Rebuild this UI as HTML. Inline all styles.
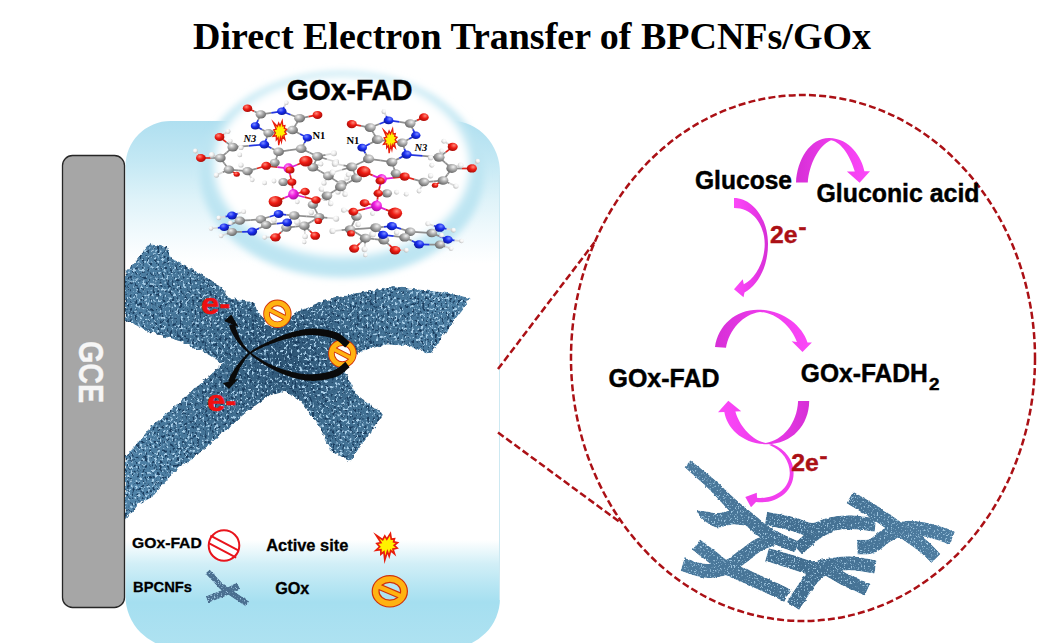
<!DOCTYPE html>
<html lang="en">
<head>
<meta charset="utf-8">
<title>Direct Electron Transfer of BPCNFs/GOx</title>
<style>
html,body{margin:0;padding:0;background:#fff;}
body{width:1040px;height:643px;overflow:hidden;}
svg{display:block;}
</style>
</head>
<body>
<svg width="1040" height="643" viewBox="0 0 1040 643">
<defs>

<linearGradient id="panelG" x1="0" y1="0" x2="0" y2="1">
  <stop offset="0" stop-color="#afdff0"/>
  <stop offset="0.074" stop-color="#c3e8f4"/>
  <stop offset="0.15" stop-color="#dff3f9"/>
  <stop offset="0.216" stop-color="#f2fafd"/>
  <stop offset="0.27" stop-color="#ffffff"/>
  <stop offset="0.795" stop-color="#ffffff"/>
  <stop offset="0.84" stop-color="#d2eff7"/>
  <stop offset="0.88" stop-color="#b8e6f3"/>
  <stop offset="0.913" stop-color="#a5dff0"/>
  <stop offset="1" stop-color="#afe2f1"/>
</linearGradient>
<linearGradient id="edgeR" x1="0" y1="0" x2="1" y2="0">
  <stop offset="0" stop-color="#bfe6f2" stop-opacity="0"/>
  <stop offset="1" stop-color="#bfe6f2" stop-opacity="0.9"/>
</linearGradient>
<radialGradient id="halo" cx="0.5" cy="0.5" r="0.5">
  <stop offset="0" stop-color="#ffffff"/>
  <stop offset="0.80" stop-color="#ffffff"/>
  <stop offset="0.86" stop-color="#d9f0f7" stop-opacity="0.95"/>
  <stop offset="0.90" stop-color="#c3e7f3" stop-opacity="0.8"/>
  <stop offset="1" stop-color="#c3e7f3" stop-opacity="0"/>
</radialGradient>
<filter id="blurB" x="-10%" y="-10%" width="120%" height="120%"><feGaussianBlur stdDeviation="3.5"/></filter>
<filter id="blurW" x="-10%" y="-10%" width="120%" height="120%"><feGaussianBlur stdDeviation="4"/></filter>
<linearGradient id="mag" x1="0" y1="0" x2="1" y2="0">
  <stop offset="0" stop-color="#d62fd6"/>
  <stop offset="0.5" stop-color="#ee3bec"/>
  <stop offset="1" stop-color="#fb48f8"/>
</linearGradient>
<linearGradient id="magR" x1="1" y1="0" x2="0" y2="0">
  <stop offset="0" stop-color="#d62fd6"/>
  <stop offset="0.5" stop-color="#ee3bec"/>
  <stop offset="1" stop-color="#fb48f8"/>
</linearGradient>

<radialGradient id="aC" cx="0.38" cy="0.32" r="0.75"><stop offset="0" stop-color="#f2f2f2"/><stop offset="0.45" stop-color="#a9a9a9"/><stop offset="1" stop-color="#5e5e5e"/></radialGradient>
<radialGradient id="aH" cx="0.38" cy="0.32" r="0.75"><stop offset="0" stop-color="#ffffff"/><stop offset="0.45" stop-color="#f1f1f1"/><stop offset="1" stop-color="#b5b5b5"/></radialGradient>
<radialGradient id="aO" cx="0.38" cy="0.32" r="0.75"><stop offset="0" stop-color="#ff8a7a"/><stop offset="0.45" stop-color="#ee1c14"/><stop offset="1" stop-color="#9c0a06"/></radialGradient>
<radialGradient id="aN" cx="0.38" cy="0.32" r="0.75"><stop offset="0" stop-color="#7a8cff"/><stop offset="0.45" stop-color="#1a2ef0"/><stop offset="1" stop-color="#0a148c"/></radialGradient>
<radialGradient id="aP" cx="0.38" cy="0.32" r="0.75"><stop offset="0" stop-color="#ff9cf5"/><stop offset="0.45" stop-color="#f01ee0"/><stop offset="1" stop-color="#a0109a"/></radialGradient>

<filter id="fib" x="-5%" y="-5%" width="110%" height="110%" color-interpolation-filters="sRGB">
  <feTurbulence type="fractalNoise" baseFrequency="0.22" numOctaves="2" seed="7" result="edgeN"/>
  <feDisplacementMap in="SourceGraphic" in2="edgeN" scale="5" xChannelSelector="R" yChannelSelector="G" result="shape"/>
  <feTurbulence type="fractalNoise" baseFrequency="0.42 0.36" numOctaves="2" seed="11" result="tn"/>
  <feColorMatrix in="tn" type="matrix" values="
     0 0 0 0 0
     0 0 0 0 0
     0 0 0 0 0
     1 1 0 0 -1.09" result="specA"/>
  <feComponentTransfer in="specA" result="specB">
    <feFuncA type="linear" slope="5" intercept="0"/>
  </feComponentTransfer>
  <feFlood flood-color="#a9cfe9" result="light"/>
  <feComposite in="light" in2="specB" operator="in" result="lightSpecs"/>
  <feTurbulence type="fractalNoise" baseFrequency="0.40 0.34" numOctaves="2" seed="23" result="tn2"/>
  <feColorMatrix in="tn2" type="matrix" values="
     0 0 0 0 0
     0 0 0 0 0
     0 0 0 0 0
     1 1 0 0 -1.06" result="dkA"/>
  <feComponentTransfer in="dkA" result="dkB">
    <feFuncA type="linear" slope="5" intercept="0"/>
  </feComponentTransfer>
  <feFlood flood-color="#1c3f61" result="dark"/>
  <feComposite in="dark" in2="dkB" operator="in" result="darkSpecs"/>
  <feMerge result="tex">
    <feMergeNode in="shape"/>
    <feMergeNode in="darkSpecs"/>
    <feMergeNode in="lightSpecs"/>
  </feMerge>
  <feComposite in="tex" in2="shape" operator="in"/>
</filter>
<filter id="fibS" x="-10%" y="-10%" width="120%" height="120%" color-interpolation-filters="sRGB">
  <feTurbulence type="fractalNoise" baseFrequency="0.25" numOctaves="2" seed="5" result="edgeN"/>
  <feDisplacementMap in="SourceGraphic" in2="edgeN" scale="2.5" xChannelSelector="R" yChannelSelector="G" result="shape"/>
  <feTurbulence type="fractalNoise" baseFrequency="0.7 0.6" numOctaves="2" seed="31" result="tn"/>
  <feColorMatrix in="tn" type="matrix" values="
     0 0 0 0 0
     0 0 0 0 0
     0 0 0 0 0
     1 1 0 0 -1.1" result="specA"/>
  <feComponentTransfer in="specA" result="specB">
    <feFuncA type="linear" slope="5" intercept="0"/>
  </feComponentTransfer>
  <feFlood flood-color="#9cc3dd" result="light"/>
  <feComposite in="light" in2="specB" operator="in" result="lightSpecs"/>
  <feMerge result="tex">
    <feMergeNode in="shape"/>
    <feMergeNode in="lightSpecs"/>
  </feMerge>
  <feComposite in="tex" in2="shape" operator="in"/>
</filter>
<linearGradient id="meshG" gradientUnits="userSpaceOnUse" x1="680" y1="0" x2="955" y2="0">
  <stop offset="0" stop-color="#4d7b9e"/>
  <stop offset="0.45" stop-color="#426e90"/>
  <stop offset="1" stop-color="#4e7da1"/>
</linearGradient>
<radialGradient id="fibG" gradientUnits="userSpaceOnUse" cx="285" cy="355" r="200">
  <stop offset="0" stop-color="#2c5373"/>
  <stop offset="0.35" stop-color="#3e6c8e"/>
  <stop offset="1" stop-color="#5083a8"/>
</radialGradient>

</defs>
<rect x="0" y="0" width="1040" height="643" fill="#ffffff"/>
<path id="panel" d="M125.5,166 A45,45 0 0 1 170.5,121 L452,121 A48,52 0 0 1 500,173 L500,598 A50,50 0 0 1 450,648 L177,648 A52,52 0 0 1 125.5,596 Z" fill="url(#panelG)"/>
<clipPath id="panelClip"><path d="M125.5,166 A45,45 0 0 1 170.5,121 L452,121 A48,52 0 0 1 500,173 L500,598 A50,50 0 0 1 450,648 L177,648 A52,52 0 0 1 125.5,596 Z"/></clipPath>
<path d="M499.5,175 L499.5,600" stroke="#cde9f2" stroke-width="1" fill="none"/>
<ellipse cx="342" cy="174.5" rx="142" ry="103" fill="#bde5f2" filter="url(#blurB)"/>
<ellipse cx="342" cy="166" rx="128" ry="91" fill="#ffffff" filter="url(#blurW)"/>
<rect x="62.5" y="155.5" width="62" height="452" rx="10" ry="10" fill="#a6a6a6" stroke="#262626" stroke-width="1.3"/>
<text transform="translate(78.8,341) rotate(90)" font-family="'Liberation Sans', sans-serif" font-weight="bold" font-size="35" fill="#f6f6f6" stroke="#f6f6f6" stroke-width="0.4" textLength="62" lengthAdjust="spacingAndGlyphs">GCE</text>
<text x="193" y="49.3" font-family="'Liberation Serif', serif" font-weight="bold" font-size="38" fill="#000" textLength="678" lengthAdjust="spacingAndGlyphs">Direct Electron Transfer of BPCNFs/GOx</text>
<text x="286.7" y="99.9" font-family="'Liberation Sans', sans-serif" font-weight="bold" stroke="#000" stroke-width="0.5" font-size="29.6" fill="#000" textLength="125.8" lengthAdjust="spacingAndGlyphs">GOx-FAD</text>
<g clip-path="url(#xclip)"><polygon points="149.5,244 166.7,247 171,258 197.8,272 222.6,287.5 227,297 255,303 260,314 269,326 285,318 300,310.4 321.8,301 356,293.3 393.3,287 424.4,290 449.3,293.3 470.4,298 430.6,354 408.9,346 387,344.6 362,351 351.3,357 345,372 356,394 384,414.6 349.8,461.3 331,450.4 318.7,425.5 300,400.6 285,392 269.3,395.5 244.4,414 219.5,436 197.8,454.6 176,470 154.2,495 138.7,504.4 124.7,520 124.7,457.8 151,426.7 176,405 197.8,386 222.6,363.7 207,354 182,342 151,332.6 124.7,320 124.7,273.5" fill="url(#fibG)" filter="url(#fib)"/></g>
<clipPath id="xclip"><rect x="125" y="200" width="400" height="360"/></clipPath>
<g id="molL">
<line x1="247.5" y1="108.2" x2="254.2" y2="111.3" stroke="#e0261c" stroke-width="1.7"/>
<line x1="254.2" y1="111.3" x2="260.8" y2="114.4" stroke="#8f8f8f" stroke-width="1.7"/>
<line x1="260.8" y1="114.4" x2="271.3" y2="112.8" stroke="#8f8f8f" stroke-width="1.7"/>
<line x1="271.3" y1="112.8" x2="281.8" y2="111.3" stroke="#2436e0" stroke-width="1.7"/>
<line x1="281.8" y1="111.3" x2="284.1" y2="107.0" stroke="#2436e0" stroke-width="1.7"/>
<line x1="284.1" y1="107.0" x2="286.4" y2="102.8" stroke="#d9d9d9" stroke-width="1.7"/>
<line x1="281.8" y1="111.3" x2="290.7" y2="114.8" stroke="#2436e0" stroke-width="1.7"/>
<line x1="290.7" y1="114.8" x2="299.6" y2="118.3" stroke="#8f8f8f" stroke-width="1.7"/>
<line x1="299.6" y1="118.3" x2="308.6" y2="116.6" stroke="#8f8f8f" stroke-width="1.7"/>
<line x1="308.6" y1="116.6" x2="317.5" y2="114.9" stroke="#e0261c" stroke-width="1.7"/>
<line x1="260.8" y1="114.4" x2="258.1" y2="120.1" stroke="#8f8f8f" stroke-width="1.7"/>
<line x1="258.1" y1="120.1" x2="255.3" y2="125.8" stroke="#2436e0" stroke-width="1.7"/>
<line x1="255.3" y1="125.8" x2="261.9" y2="129.4" stroke="#2436e0" stroke-width="1.7"/>
<line x1="261.9" y1="129.4" x2="268.5" y2="133.1" stroke="#8f8f8f" stroke-width="1.7"/>
<line x1="268.5" y1="133.1" x2="280.6" y2="131.6" stroke="#8f8f8f" stroke-width="1.7"/>
<line x1="280.6" y1="131.6" x2="292.6" y2="130" stroke="#8f8f8f" stroke-width="1.7"/>
<line x1="299.6" y1="118.3" x2="296.1" y2="124.2" stroke="#8f8f8f" stroke-width="1.7"/>
<line x1="296.1" y1="124.2" x2="292.6" y2="130" stroke="#8f8f8f" stroke-width="1.7"/>
<line x1="292.6" y1="130" x2="300.0" y2="133.9" stroke="#8f8f8f" stroke-width="1.7"/>
<line x1="300.0" y1="133.9" x2="307.4" y2="137.8" stroke="#2436e0" stroke-width="1.7"/>
<line x1="307.4" y1="137.8" x2="304.3" y2="143.2" stroke="#2436e0" stroke-width="1.7"/>
<line x1="304.3" y1="143.2" x2="301.2" y2="148.7" stroke="#8f8f8f" stroke-width="1.7"/>
<line x1="268.5" y1="133.1" x2="266.4" y2="138.8" stroke="#8f8f8f" stroke-width="1.7"/>
<line x1="266.4" y1="138.8" x2="264.3" y2="144.5" stroke="#2436e0" stroke-width="1.7"/>
<line x1="264.3" y1="144.5" x2="271.5" y2="148.2" stroke="#2436e0" stroke-width="1.7"/>
<line x1="271.5" y1="148.2" x2="278.6" y2="151.8" stroke="#8f8f8f" stroke-width="1.7"/>
<line x1="278.6" y1="151.8" x2="289.9" y2="150.2" stroke="#8f8f8f" stroke-width="1.7"/>
<line x1="289.9" y1="150.2" x2="301.2" y2="148.7" stroke="#8f8f8f" stroke-width="1.7"/>
<line x1="301.2" y1="148.7" x2="309.4" y2="152.6" stroke="#8f8f8f" stroke-width="1.7"/>
<line x1="309.4" y1="152.6" x2="317.5" y2="156.4" stroke="#8f8f8f" stroke-width="1.7"/>
<line x1="317.5" y1="156.4" x2="325.7" y2="154.9" stroke="#8f8f8f" stroke-width="1.7"/>
<line x1="325.7" y1="154.9" x2="333.9" y2="153.3" stroke="#d9d9d9" stroke-width="1.7"/>
<line x1="317.5" y1="156.4" x2="315.2" y2="161.9" stroke="#8f8f8f" stroke-width="1.7"/>
<line x1="315.2" y1="161.9" x2="312.9" y2="167.3" stroke="#8f8f8f" stroke-width="1.7"/>
<line x1="312.9" y1="167.3" x2="320.6" y2="171.6" stroke="#8f8f8f" stroke-width="1.7"/>
<line x1="320.6" y1="171.6" x2="328.4" y2="175.9" stroke="#8f8f8f" stroke-width="1.7"/>
<line x1="328.4" y1="175.9" x2="335.0" y2="180.2" stroke="#8f8f8f" stroke-width="1.7"/>
<line x1="335.0" y1="180.2" x2="341.6" y2="184.4" stroke="#8f8f8f" stroke-width="1.7"/>
<line x1="328.4" y1="175.9" x2="326.2" y2="179.4" stroke="#8f8f8f" stroke-width="1.7"/>
<line x1="326.2" y1="179.4" x2="324" y2="183" stroke="#d9d9d9" stroke-width="1.7"/>
<line x1="341.6" y1="184.4" x2="339.8" y2="188.2" stroke="#8f8f8f" stroke-width="1.7"/>
<line x1="339.8" y1="188.2" x2="338" y2="192" stroke="#d9d9d9" stroke-width="1.7"/>
<line x1="341.6" y1="184.4" x2="344.3" y2="181.2" stroke="#8f8f8f" stroke-width="1.7"/>
<line x1="344.3" y1="181.2" x2="347" y2="178" stroke="#d9d9d9" stroke-width="1.7"/>
<line x1="312.9" y1="167.3" x2="316.9" y2="165.7" stroke="#8f8f8f" stroke-width="1.7"/>
<line x1="316.9" y1="165.7" x2="321" y2="164" stroke="#d9d9d9" stroke-width="1.7"/>
<line x1="317.5" y1="156.4" x2="326.9" y2="159.2" stroke="#8f8f8f" stroke-width="1.7"/>
<line x1="326.9" y1="159.2" x2="336.2" y2="161.9" stroke="#d9d9d9" stroke-width="1.7"/>
<line x1="264.3" y1="144.5" x2="248.6" y2="145.8" stroke="#2436e0" stroke-width="1.7"/>
<line x1="248.6" y1="145.8" x2="232.8" y2="147.1" stroke="#8f8f8f" stroke-width="1.7"/>
<line x1="232.8" y1="147.1" x2="226.2" y2="142.1" stroke="#8f8f8f" stroke-width="1.7"/>
<line x1="226.2" y1="142.1" x2="219.5" y2="137" stroke="#e0261c" stroke-width="1.7"/>
<line x1="219.5" y1="137" x2="223.8" y2="134.2" stroke="#e0261c" stroke-width="1.7"/>
<line x1="223.8" y1="134.2" x2="228.1" y2="131.5" stroke="#d9d9d9" stroke-width="1.7"/>
<line x1="232.8" y1="147.1" x2="226.6" y2="152.6" stroke="#8f8f8f" stroke-width="1.7"/>
<line x1="226.6" y1="152.6" x2="220.3" y2="158" stroke="#8f8f8f" stroke-width="1.7"/>
<line x1="220.3" y1="158" x2="210.6" y2="158.0" stroke="#8f8f8f" stroke-width="1.7"/>
<line x1="210.6" y1="158.0" x2="200.9" y2="158" stroke="#e0261c" stroke-width="1.7"/>
<line x1="200.9" y1="158" x2="198.2" y2="154.5" stroke="#e0261c" stroke-width="1.7"/>
<line x1="198.2" y1="154.5" x2="195.4" y2="151" stroke="#d9d9d9" stroke-width="1.7"/>
<line x1="220.3" y1="158" x2="224.6" y2="163.8" stroke="#8f8f8f" stroke-width="1.7"/>
<line x1="224.6" y1="163.8" x2="228.9" y2="169.6" stroke="#8f8f8f" stroke-width="1.7"/>
<line x1="228.9" y1="169.6" x2="238.2" y2="170.4" stroke="#8f8f8f" stroke-width="1.7"/>
<line x1="238.2" y1="170.4" x2="247.5" y2="171.2" stroke="#8f8f8f" stroke-width="1.7"/>
<line x1="247.5" y1="171.2" x2="256.9" y2="168.5" stroke="#8f8f8f" stroke-width="1.7"/>
<line x1="256.9" y1="168.5" x2="266.2" y2="165.8" stroke="#e0261c" stroke-width="1.7"/>
<line x1="266.2" y1="165.8" x2="277.4" y2="167.1" stroke="#e0261c" stroke-width="1.7"/>
<line x1="277.4" y1="167.1" x2="288.5" y2="168.3" stroke="#e020d0" stroke-width="1.7"/>
<line x1="278.6" y1="151.8" x2="276.7" y2="157.2" stroke="#8f8f8f" stroke-width="1.7"/>
<line x1="276.7" y1="157.2" x2="274.8" y2="162.7" stroke="#8f8f8f" stroke-width="1.7"/>
<line x1="274.8" y1="162.7" x2="270.5" y2="164.2" stroke="#8f8f8f" stroke-width="1.7"/>
<line x1="270.5" y1="164.2" x2="266.2" y2="165.8" stroke="#e0261c" stroke-width="1.7"/>
<line x1="288.5" y1="168.3" x2="297.2" y2="164.7" stroke="#e020d0" stroke-width="1.7"/>
<line x1="297.2" y1="164.7" x2="305.9" y2="161.1" stroke="#e0261c" stroke-width="1.7"/>
<line x1="288.5" y1="168.3" x2="290.2" y2="175.2" stroke="#e020d0" stroke-width="1.7"/>
<line x1="290.2" y1="175.2" x2="291.9" y2="182.1" stroke="#e0261c" stroke-width="1.7"/>
<line x1="291.9" y1="182.1" x2="292.6" y2="188.2" stroke="#e0261c" stroke-width="1.7"/>
<line x1="292.6" y1="188.2" x2="293.4" y2="194.3" stroke="#e020d0" stroke-width="1.7"/>
<line x1="291.9" y1="182.1" x2="287.6" y2="182.1" stroke="#e0261c" stroke-width="1.7"/>
<line x1="287.6" y1="182.1" x2="283.3" y2="182.1" stroke="#8f8f8f" stroke-width="1.7"/>
<line x1="293.4" y1="194.3" x2="299.2" y2="192.9" stroke="#e020d0" stroke-width="1.7"/>
<line x1="299.2" y1="192.9" x2="305.1" y2="191.6" stroke="#e0261c" stroke-width="1.7"/>
<line x1="293.4" y1="194.3" x2="284.4" y2="197.9" stroke="#e020d0" stroke-width="1.7"/>
<line x1="284.4" y1="197.9" x2="275.5" y2="201.5" stroke="#e0261c" stroke-width="1.7"/>
<line x1="293.4" y1="194.3" x2="304.7" y2="197.2" stroke="#e020d0" stroke-width="1.7"/>
<line x1="304.7" y1="197.2" x2="316" y2="200" stroke="#e0261c" stroke-width="1.7"/>
<line x1="316" y1="200" x2="320.6" y2="199.2" stroke="#e0261c" stroke-width="1.7"/>
<line x1="320.6" y1="199.2" x2="325.3" y2="198.4" stroke="#d9d9d9" stroke-width="1.7"/>
<line x1="316" y1="200" x2="314.4" y2="202.3" stroke="#e0261c" stroke-width="1.7"/>
<line x1="314.4" y1="202.3" x2="312.9" y2="204.7" stroke="#8f8f8f" stroke-width="1.7"/>
<line x1="312.9" y1="204.7" x2="316.0" y2="210.9" stroke="#8f8f8f" stroke-width="1.7"/>
<line x1="316.0" y1="210.9" x2="319.1" y2="217.1" stroke="#8f8f8f" stroke-width="1.7"/>
<line x1="319.1" y1="217.1" x2="327.6" y2="217.9" stroke="#8f8f8f" stroke-width="1.7"/>
<line x1="327.6" y1="217.9" x2="336.2" y2="218.7" stroke="#d9d9d9" stroke-width="1.7"/>
<line x1="319.1" y1="217.1" x2="311.7" y2="221.4" stroke="#8f8f8f" stroke-width="1.7"/>
<line x1="311.7" y1="221.4" x2="304.3" y2="225.7" stroke="#8f8f8f" stroke-width="1.7"/>
<line x1="304.3" y1="225.7" x2="309.8" y2="230.8" stroke="#8f8f8f" stroke-width="1.7"/>
<line x1="309.8" y1="230.8" x2="315.2" y2="235.8" stroke="#e0261c" stroke-width="1.7"/>
<line x1="304.3" y1="225.7" x2="295.4" y2="226.6" stroke="#8f8f8f" stroke-width="1.7"/>
<line x1="295.4" y1="226.6" x2="286.4" y2="227.6" stroke="#8f8f8f" stroke-width="1.7"/>
<line x1="286.4" y1="227.6" x2="280.9" y2="232.4" stroke="#8f8f8f" stroke-width="1.7"/>
<line x1="280.9" y1="232.4" x2="275.5" y2="237.3" stroke="#e0261c" stroke-width="1.7"/>
<line x1="275.5" y1="237.3" x2="270.1" y2="237.3" stroke="#e0261c" stroke-width="1.7"/>
<line x1="270.1" y1="237.3" x2="264.6" y2="237.3" stroke="#d9d9d9" stroke-width="1.7"/>
<line x1="304.3" y1="225.7" x2="304.7" y2="231.1" stroke="#8f8f8f" stroke-width="1.7"/>
<line x1="304.7" y1="231.1" x2="305.1" y2="236.5" stroke="#d9d9d9" stroke-width="1.7"/>
<line x1="278.6" y1="214" x2="286.4" y2="214.8" stroke="#2436e0" stroke-width="1.7"/>
<line x1="286.4" y1="214.8" x2="294.2" y2="215.5" stroke="#8f8f8f" stroke-width="1.7"/>
<line x1="294.2" y1="215.5" x2="290.7" y2="219.0" stroke="#8f8f8f" stroke-width="1.7"/>
<line x1="290.7" y1="219.0" x2="287.2" y2="222.5" stroke="#2436e0" stroke-width="1.7"/>
<line x1="287.2" y1="222.5" x2="276.7" y2="223.7" stroke="#2436e0" stroke-width="1.7"/>
<line x1="276.7" y1="223.7" x2="266.2" y2="224.9" stroke="#8f8f8f" stroke-width="1.7"/>
<line x1="266.2" y1="224.9" x2="263.5" y2="222.2" stroke="#8f8f8f" stroke-width="1.7"/>
<line x1="263.5" y1="222.2" x2="260.8" y2="219.4" stroke="#8f8f8f" stroke-width="1.7"/>
<line x1="260.8" y1="219.4" x2="269.7" y2="216.7" stroke="#8f8f8f" stroke-width="1.7"/>
<line x1="269.7" y1="216.7" x2="278.6" y2="214" stroke="#2436e0" stroke-width="1.7"/>
<line x1="260.8" y1="219.4" x2="250.3" y2="220.1" stroke="#8f8f8f" stroke-width="1.7"/>
<line x1="250.3" y1="220.1" x2="239.8" y2="220.7" stroke="#8f8f8f" stroke-width="1.7"/>
<line x1="239.8" y1="220.7" x2="235.9" y2="218.1" stroke="#8f8f8f" stroke-width="1.7"/>
<line x1="235.9" y1="218.1" x2="232" y2="215.5" stroke="#2436e0" stroke-width="1.7"/>
<line x1="239.8" y1="220.7" x2="232.0" y2="223.9" stroke="#8f8f8f" stroke-width="1.7"/>
<line x1="232.0" y1="223.9" x2="224.2" y2="227.2" stroke="#2436e0" stroke-width="1.7"/>
<line x1="224.2" y1="227.2" x2="228.1" y2="229.6" stroke="#2436e0" stroke-width="1.7"/>
<line x1="228.1" y1="229.6" x2="232" y2="231.9" stroke="#8f8f8f" stroke-width="1.7"/>
<line x1="232" y1="231.9" x2="242.1" y2="231.8" stroke="#8f8f8f" stroke-width="1.7"/>
<line x1="242.1" y1="231.8" x2="252.2" y2="231.6" stroke="#2436e0" stroke-width="1.7"/>
<line x1="252.2" y1="231.6" x2="259.2" y2="228.2" stroke="#2436e0" stroke-width="1.7"/>
<line x1="259.2" y1="228.2" x2="266.2" y2="224.9" stroke="#8f8f8f" stroke-width="1.7"/>
<line x1="294.2" y1="215.5" x2="306.6" y2="216.3" stroke="#8f8f8f" stroke-width="1.7"/>
<line x1="306.6" y1="216.3" x2="319.1" y2="217.1" stroke="#8f8f8f" stroke-width="1.7"/>
<line x1="287.2" y1="222.5" x2="286.8" y2="225.1" stroke="#2436e0" stroke-width="1.7"/>
<line x1="286.8" y1="225.1" x2="286.4" y2="227.6" stroke="#8f8f8f" stroke-width="1.7"/>
<line x1="232" y1="215.5" x2="237.8" y2="213.6" stroke="#2436e0" stroke-width="1.7"/>
<line x1="237.8" y1="213.6" x2="243.7" y2="211.7" stroke="#d9d9d9" stroke-width="1.7"/>
<line x1="232" y1="215.5" x2="225.4" y2="216.7" stroke="#2436e0" stroke-width="1.7"/>
<line x1="225.4" y1="216.7" x2="218.8" y2="217.9" stroke="#d9d9d9" stroke-width="1.7"/>
<line x1="224.2" y1="227.2" x2="217.6" y2="227.8" stroke="#2436e0" stroke-width="1.7"/>
<line x1="217.6" y1="227.8" x2="211" y2="228.5" stroke="#d9d9d9" stroke-width="1.7"/>
<line x1="232" y1="231.9" x2="226.6" y2="233.9" stroke="#8f8f8f" stroke-width="1.7"/>
<line x1="226.6" y1="233.9" x2="221.1" y2="235.8" stroke="#d9d9d9" stroke-width="1.7"/>
<line x1="228.9" y1="169.6" x2="222.7" y2="172.3" stroke="#8f8f8f" stroke-width="1.7"/>
<line x1="222.7" y1="172.3" x2="216.4" y2="175.1" stroke="#d9d9d9" stroke-width="1.7"/>
<line x1="247.5" y1="171.2" x2="249.8" y2="175.5" stroke="#8f8f8f" stroke-width="1.7"/>
<line x1="249.8" y1="175.5" x2="252.2" y2="179.8" stroke="#d9d9d9" stroke-width="1.7"/>
<line x1="220.3" y1="158" x2="216.1" y2="156.4" stroke="#8f8f8f" stroke-width="1.7"/>
<line x1="216.1" y1="156.4" x2="211.8" y2="154.9" stroke="#d9d9d9" stroke-width="1.7"/>
<line x1="228.9" y1="169.6" x2="232.8" y2="171.9" stroke="#8f8f8f" stroke-width="1.7"/>
<line x1="232.8" y1="171.9" x2="236.7" y2="174.3" stroke="#e0261c" stroke-width="1.7"/>
<ellipse cx="286.4" cy="102.8" rx="2.2" ry="2.2" fill="url(#aH)"/>
<ellipse cx="333.9" cy="153.3" rx="3.0" ry="3.0" fill="url(#aH)"/>
<ellipse cx="336.2" cy="161.9" rx="2.8" ry="2.8" fill="url(#aH)"/>
<ellipse cx="324" cy="183" rx="2.6" ry="2.6" fill="url(#aH)"/>
<ellipse cx="338" cy="192" rx="2.6" ry="2.6" fill="url(#aH)"/>
<ellipse cx="347" cy="178" rx="2.6" ry="2.6" fill="url(#aH)"/>
<ellipse cx="321" cy="164" rx="2.4" ry="2.4" fill="url(#aH)"/>
<ellipse cx="274" cy="181" rx="2.4" ry="2.4" fill="url(#aH)"/>
<ellipse cx="325.3" cy="198.4" rx="2.6" ry="2.6" fill="url(#aH)"/>
<ellipse cx="297.3" cy="201.8" rx="2.4" ry="2.4" fill="url(#aH)"/>
<ellipse cx="228.1" cy="131.5" rx="2.4" ry="2.4" fill="url(#aH)"/>
<ellipse cx="241" cy="147.5" rx="2.6" ry="2.6" fill="url(#aH)"/>
<ellipse cx="230.4" cy="140.9" rx="2.2" ry="2.2" fill="url(#aH)"/>
<ellipse cx="239.8" cy="154.9" rx="2.4" ry="2.4" fill="url(#aH)"/>
<ellipse cx="195.4" cy="151" rx="2.4" ry="2.4" fill="url(#aH)"/>
<ellipse cx="211.8" cy="154.9" rx="2.8" ry="2.8" fill="url(#aH)"/>
<ellipse cx="216.4" cy="175.1" rx="2.6" ry="2.6" fill="url(#aH)"/>
<ellipse cx="252.2" cy="179.8" rx="2.4" ry="2.4" fill="url(#aH)"/>
<ellipse cx="264.6" cy="182.9" rx="2.4" ry="2.4" fill="url(#aH)"/>
<ellipse cx="241" cy="165" rx="2.6" ry="2.6" fill="url(#aH)"/>
<ellipse cx="336.2" cy="218.7" rx="3.0" ry="3.0" fill="url(#aH)"/>
<ellipse cx="311.3" cy="212.4" rx="2.6" ry="2.6" fill="url(#aH)"/>
<ellipse cx="297.3" cy="221.8" rx="3.2" ry="3.2" fill="url(#aH)"/>
<ellipse cx="305.1" cy="236.5" rx="2.8" ry="2.8" fill="url(#aH)"/>
<ellipse cx="304.3" cy="242" rx="2.2" ry="2.2" fill="url(#aH)"/>
<ellipse cx="264.6" cy="237.3" rx="2.4" ry="2.4" fill="url(#aH)"/>
<ellipse cx="274" cy="220.2" rx="2.6" ry="2.6" fill="url(#aH)"/>
<ellipse cx="243.7" cy="211.7" rx="2.4" ry="2.4" fill="url(#aH)"/>
<ellipse cx="218.8" cy="217.9" rx="2.4" ry="2.4" fill="url(#aH)"/>
<ellipse cx="211" cy="228.5" rx="2.2" ry="2.2" fill="url(#aH)"/>
<ellipse cx="221.1" cy="235.8" rx="2.4" ry="2.4" fill="url(#aH)"/>
<ellipse cx="230.4" cy="222.9" rx="2.4" ry="2.4" fill="url(#aH)"/>
<ellipse cx="260.8" cy="114.4" rx="5.2" ry="4.1" fill="url(#aC)"/>
<ellipse cx="299.6" cy="118.3" rx="5.4" ry="4.3" fill="url(#aC)"/>
<ellipse cx="268.5" cy="133.1" rx="5.2" ry="4.1" fill="url(#aC)"/>
<ellipse cx="292.6" cy="130" rx="5.4" ry="4.3" fill="url(#aC)"/>
<ellipse cx="278.6" cy="151.8" rx="5.4" ry="4.3" fill="url(#aC)"/>
<ellipse cx="301.2" cy="148.7" rx="5.4" ry="4.3" fill="url(#aC)"/>
<ellipse cx="317.5" cy="156.4" rx="5.4" ry="4.3" fill="url(#aC)"/>
<ellipse cx="312.9" cy="167.3" rx="5.4" ry="4.3" fill="url(#aC)"/>
<ellipse cx="328.4" cy="175.9" rx="5.4" ry="4.3" fill="url(#aC)"/>
<ellipse cx="341.6" cy="184.4" rx="5.2" ry="4.1" fill="url(#aC)"/>
<ellipse cx="274.8" cy="162.7" rx="4.9" ry="4.0" fill="url(#aC)"/>
<ellipse cx="283.3" cy="182.1" rx="4.9" ry="4.0" fill="url(#aC)"/>
<ellipse cx="232.8" cy="147.1" rx="5.4" ry="4.3" fill="url(#aC)"/>
<ellipse cx="220.3" cy="158" rx="5.4" ry="4.3" fill="url(#aC)"/>
<ellipse cx="228.9" cy="169.6" rx="5.2" ry="4.1" fill="url(#aC)"/>
<ellipse cx="247.5" cy="171.2" rx="5.2" ry="4.1" fill="url(#aC)"/>
<ellipse cx="312.9" cy="204.7" rx="5.2" ry="4.1" fill="url(#aC)"/>
<ellipse cx="319.1" cy="217.1" rx="5.2" ry="4.1" fill="url(#aC)"/>
<ellipse cx="294.2" cy="215.5" rx="5.4" ry="4.3" fill="url(#aC)"/>
<ellipse cx="304.3" cy="225.7" rx="5.4" ry="4.3" fill="url(#aC)"/>
<ellipse cx="286.4" cy="227.6" rx="5.2" ry="4.1" fill="url(#aC)"/>
<ellipse cx="260.8" cy="219.4" rx="5.2" ry="4.1" fill="url(#aC)"/>
<ellipse cx="266.2" cy="224.9" rx="5.2" ry="4.1" fill="url(#aC)"/>
<ellipse cx="232" cy="231.9" rx="4.9" ry="4.0" fill="url(#aC)"/>
<ellipse cx="239.8" cy="220.7" rx="5.2" ry="4.1" fill="url(#aC)"/>
<ellipse cx="281.8" cy="111.3" rx="4.7" ry="3.8" fill="url(#aN)"/>
<ellipse cx="255.3" cy="125.8" rx="4.5" ry="3.6" fill="url(#aN)"/>
<ellipse cx="307.4" cy="137.8" rx="4.7" ry="3.8" fill="url(#aN)"/>
<ellipse cx="264.3" cy="144.5" rx="4.9" ry="4.0" fill="url(#aN)"/>
<ellipse cx="288.5" cy="168.3" rx="5.0" ry="5.0" fill="url(#aP)"/>
<ellipse cx="293.4" cy="194.3" rx="5.2" ry="5.2" fill="url(#aP)"/>
<ellipse cx="278.6" cy="214" rx="4.9" ry="4.0" fill="url(#aN)"/>
<ellipse cx="287.2" cy="222.5" rx="4.9" ry="4.0" fill="url(#aN)"/>
<ellipse cx="252.2" cy="231.6" rx="4.9" ry="4.0" fill="url(#aN)"/>
<ellipse cx="224.2" cy="227.2" rx="4.7" ry="3.8" fill="url(#aN)"/>
<ellipse cx="232" cy="215.5" rx="4.9" ry="4.0" fill="url(#aN)"/>
<ellipse cx="247.5" cy="108.2" rx="4.7" ry="3.8" fill="url(#aO)"/>
<ellipse cx="317.5" cy="114.9" rx="4.9" ry="4.0" fill="url(#aO)"/>
<ellipse cx="305.9" cy="161.1" rx="6.7" ry="5.4" fill="url(#aO)"/>
<ellipse cx="290.0" cy="170.0" rx="4.5" ry="3.6" fill="url(#aO)"/>
<ellipse cx="266.2" cy="165.8" rx="4.9" ry="4.0" fill="url(#aO)"/>
<ellipse cx="291.9" cy="182.1" rx="4.5" ry="3.6" fill="url(#aO)"/>
<ellipse cx="305.1" cy="191.6" rx="4.7" ry="3.8" fill="url(#aO)"/>
<ellipse cx="275.5" cy="201.5" rx="6.9" ry="5.6" fill="url(#aO)"/>
<ellipse cx="316" cy="200" rx="4.7" ry="3.8" fill="url(#aO)"/>
<ellipse cx="219.5" cy="137" rx="4.9" ry="4.0" fill="url(#aO)"/>
<ellipse cx="200.9" cy="158" rx="4.9" ry="4.0" fill="url(#aO)"/>
<ellipse cx="236.7" cy="174.3" rx="3.1" ry="2.5" fill="url(#aO)"/>
<ellipse cx="318.3" cy="221.0" rx="3.8" ry="3.1" fill="url(#aO)"/>
<ellipse cx="275.5" cy="237.3" rx="5.2" ry="4.1" fill="url(#aO)"/>
<ellipse cx="315.2" cy="235.8" rx="4.9" ry="4.0" fill="url(#aO)"/>
</g>
<use href="#molL" transform="matrix(-1.03,0,0,1.03,678.8,5.75)"/>
<polygon points="273.3,122.3 277.4,126.5 278.7,122.9 280.0,125.9 282.2,120.7 282.8,125.9 284.9,125.6 284.3,128.4 286.7,129.2 284.7,131.7 286.5,134.1 283.9,135.2 284.9,139.6 282.4,136.6 281.5,141.8 280.4,137.4 278.7,145.1 278.1,137.7 276.3,139.9 276.3,135.8 273.1,136.3 275.5,133.0 273.7,130.0 276.3,129.2" fill="#fff200" stroke="#e81c0c" stroke-width="1.3" stroke-linejoin="miter" stroke-miterlimit="6"/>
<polygon points="383.7,130.3 387.8,134.5 389.1,130.9 390.4,133.9 392.6,128.7 393.2,133.9 395.3,133.6 394.7,136.4 397.1,137.2 395.1,139.7 396.9,142.1 394.3,143.2 395.3,147.6 392.8,144.6 391.9,149.8 390.8,145.4 389.1,153.1 388.5,145.7 386.7,147.9 386.7,143.8 383.5,144.3 385.9,141.0 384.1,138.0 386.7,137.2" fill="#fff200" stroke="#e81c0c" stroke-width="1.3" stroke-linejoin="miter" stroke-miterlimit="6"/>
<text x="243.5" y="141.7" font-family="'Liberation Serif', serif" font-weight="bold" font-style="italic" font-size="10.5" fill="#000">N3</text>
<text x="312.5" y="138.6" font-family="'Liberation Serif', serif" font-weight="bold" font-size="10.5" fill="#000">N1</text>
<text x="346.5" y="143.8" font-family="'Liberation Serif', serif" font-weight="bold" font-size="10.5" fill="#000">N1</text>
<text x="414.5" y="151.3" font-family="'Liberation Serif', serif" font-weight="bold" font-style="italic" font-size="10.5" fill="#000">N3</text>
<g transform="translate(342.4,353.6)">
<ellipse cx="0" cy="0" rx="8.600000000000001" ry="8.600000000000001" fill="#ffffff"/>
<clipPath id="gc342_353"><ellipse cx="0" cy="0" rx="13.200000000000001" ry="13.200000000000001"/></clipPath>
<path d="M-13.4,0 A13.4,13.4 0 1 0 13.4,0 A13.4,13.4 0 1 0 -13.4,0 Z M-8.600000000000001,0 A8.600000000000001,8.600000000000001 0 1 1 8.600000000000001,0 A8.600000000000001,8.600000000000001 0 1 1 -8.600000000000001,0 Z" fill="none" stroke="#d0320a" stroke-width="1.8"/>
<g clip-path="url(#gc342_353)"><rect x="-11.00" y="-1.80" width="22.00" height="3.6" transform="rotate(27)" fill="#ffb312" stroke="#d0320a" stroke-width="1.8"/></g>
<path d="M-13.4,0 A13.4,13.4 0 1 0 13.4,0 A13.4,13.4 0 1 0 -13.4,0 Z M-8.600000000000001,0 A8.600000000000001,8.600000000000001 0 1 1 8.600000000000001,0 A8.600000000000001,8.600000000000001 0 1 1 -8.600000000000001,0 Z" fill="#ffb312" fill-rule="evenodd"/>
<g clip-path="url(#gc342_353)"><rect x="-11.00" y="-1.80" width="22.00" height="3.6" transform="rotate(27)" fill="#ffb312"/></g>
</g>
<polygon points="349.7,342.4 349.3,342.0 348.8,341.6 348.2,341.0 347.5,340.4 346.8,339.6 345.9,338.8 345.0,337.9 344.0,337.0 342.9,336.1 341.7,335.2 340.5,334.4 339.1,333.6 337.7,332.9 336.3,332.2 334.8,331.7 333.2,331.3 331.6,330.8 329.9,330.4 328.2,330.1 326.4,329.8 324.6,329.5 322.8,329.2 321.0,329.0 319.1,328.8 317.3,328.7 315.5,328.6 313.7,328.5 312.0,328.5 310.3,328.6 308.6,328.7 306.9,328.9 305.3,329.1 303.6,329.4 302.0,329.7 300.4,330.0 298.8,330.4 297.2,330.8 295.6,331.2 294.0,331.6 292.5,332.1 290.9,332.5 289.3,333.0 287.7,333.5 286.1,334.1 284.5,334.6 282.9,335.3 281.3,335.9 279.6,336.5 278.0,337.2 276.4,337.9 274.9,338.6 273.3,339.3 271.8,340.0 270.3,340.7 268.8,341.4 267.4,342.1 266.0,342.8 264.6,343.5 263.2,344.2 261.8,344.8 260.4,345.5 259.0,346.2 257.7,347.0 256.4,347.7 255.1,348.4 253.9,349.2 252.7,349.9 251.6,350.7 250.5,351.5 249.5,352.3 248.4,353.0 247.4,353.8 246.5,354.5 245.6,355.3 244.8,356.1 244.0,357.0 243.2,357.8 242.5,358.6 241.8,359.4 241.1,360.3 240.5,361.1 239.8,361.9 239.2,362.7 238.5,363.5 237.9,364.3 237.2,365.1 236.6,366.0 236.0,366.9 235.4,367.8 234.8,368.6 234.2,369.5 233.7,370.3 233.2,371.2 232.7,372.0 232.2,372.7 231.8,373.5 231.4,374.1 231.0,374.8 230.7,375.4 230.3,376.0 230.0,376.6 229.8,377.2 229.6,377.8 229.3,378.3 229.2,378.8 229.0,379.2 228.8,379.6 228.7,380.0 228.6,380.3 228.5,380.6 228.4,380.8 228.3,380.9 234.1,383.1 234.2,382.8 234.3,382.4 234.4,382.1 234.4,381.8 234.5,381.4 234.6,381.1 234.7,380.7 234.9,380.3 235.0,379.8 235.2,379.4 235.3,378.9 235.5,378.4 235.7,377.8 236.0,377.2 236.3,376.6 236.6,375.8 236.9,375.1 237.2,374.3 237.5,373.4 237.9,372.6 238.3,371.7 238.7,370.8 239.1,369.9 239.6,369.0 240.0,368.1 240.5,367.2 241.0,366.4 241.5,365.5 242.0,364.7 242.5,363.8 243.1,362.9 243.6,362.1 244.2,361.2 244.7,360.3 245.3,359.5 246.0,358.6 246.6,357.8 247.3,356.9 248.0,356.1 248.8,355.3 249.6,354.5 250.5,353.7 251.6,353.0 252.7,352.4 253.8,351.7 255.0,351.0 256.2,350.4 257.5,349.7 258.8,349.1 260.1,348.5 261.5,347.9 262.9,347.3 264.3,346.6 265.7,346.1 267.2,345.5 268.6,344.9 270.1,344.3 271.6,343.8 273.1,343.2 274.7,342.7 276.3,342.1 277.9,341.6 279.5,341.1 281.1,340.6 282.7,340.1 284.3,339.6 285.9,339.2 287.5,338.7 289.1,338.4 290.7,338.0 292.2,337.6 293.8,337.3 295.4,337.0 296.9,336.6 298.4,336.3 300.0,336.1 301.5,335.8 303.0,335.6 304.5,335.4 306.0,335.3 307.5,335.2 309.0,335.1 310.5,335.1 312.0,335.1 313.5,335.1 315.2,335.2 316.8,335.3 318.5,335.5 320.2,335.7 321.9,335.9 323.6,336.2 325.2,336.5 326.8,336.8 328.4,337.2 329.9,337.5 331.3,337.9 332.6,338.4 333.7,338.8 334.8,339.2 335.8,339.7 336.7,340.3 337.7,340.9 338.6,341.6 339.5,342.3 340.4,343.1 341.2,343.8 342.0,344.5 342.7,345.3 343.5,345.9 344.1,346.6 344.8,347.2 345.3,347.6" fill="#0a0a0a"/>
<polygon points="345.4,361.8 344.8,362.2 344.2,362.8 343.5,363.4 342.8,364.0 342.1,364.7 341.3,365.4 340.5,366.1 339.6,366.8 338.7,367.5 337.8,368.1 336.8,368.8 335.8,369.3 334.8,369.8 333.8,370.2 332.6,370.7 331.3,371.1 329.8,371.5 328.3,371.9 326.8,372.3 325.1,372.7 323.5,373.0 321.8,373.3 320.1,373.6 318.4,373.8 316.7,374.0 315.1,374.1 313.5,374.2 312.0,374.3 310.5,374.3 309.0,374.3 307.5,374.3 306.0,374.2 304.5,374.1 303.0,373.9 301.5,373.7 299.9,373.5 298.4,373.2 296.9,372.9 295.4,372.6 293.8,372.3 292.3,371.9 290.7,371.5 289.2,371.1 287.6,370.7 286.0,370.2 284.4,369.8 282.8,369.2 281.1,368.7 279.5,368.1 277.9,367.5 276.3,366.9 274.8,366.3 273.2,365.7 271.7,365.0 270.2,364.3 268.7,363.7 267.3,363.0 265.9,362.2 264.4,361.4 263.0,360.6 261.6,359.8 260.3,359.0 258.9,358.1 257.6,357.3 256.3,356.4 255.1,355.6 253.9,354.7 252.7,353.9 251.6,353.1 250.6,352.3 249.7,351.5 248.8,350.6 248.0,349.8 247.3,349.0 246.5,348.2 245.9,347.3 245.3,346.5 244.7,345.8 244.1,345.0 243.5,344.2 243.0,343.4 242.5,342.6 242.0,341.8 241.5,341.0 241.0,340.2 240.6,339.4 240.1,338.5 239.7,337.7 239.4,336.9 239.0,336.0 238.7,335.2 238.4,334.4 238.0,333.6 237.8,332.8 237.5,332.0 237.2,331.2 237.0,330.5 236.8,329.9 236.5,329.3 236.3,328.7 236.1,328.2 236.0,327.7 235.8,327.2 235.7,326.7 235.6,326.2 235.5,325.8 235.4,325.3 235.3,324.9 235.2,324.6 235.1,324.2 235.0,323.9 235.0,323.6 229.0,325.4 229.1,325.7 229.2,325.9 229.3,326.2 229.5,326.6 229.6,327.0 229.7,327.4 229.9,327.9 230.1,328.4 230.3,329.0 230.5,329.6 230.8,330.2 231.0,330.8 231.3,331.5 231.6,332.1 232.0,332.8 232.4,333.4 232.8,334.1 233.2,334.9 233.6,335.6 234.1,336.4 234.6,337.2 235.0,338.1 235.6,338.9 236.1,339.7 236.7,340.6 237.3,341.4 237.9,342.2 238.5,343.0 239.2,343.8 239.8,344.6 240.4,345.3 241.1,346.1 241.8,346.8 242.5,347.6 243.2,348.3 244.0,349.1 244.8,349.8 245.6,350.6 246.5,351.4 247.4,352.1 248.4,352.9 249.4,353.7 250.4,354.6 251.5,355.5 252.6,356.4 253.8,357.3 255.0,358.2 256.3,359.2 257.6,360.1 258.9,361.1 260.3,362.0 261.6,362.9 263.0,363.8 264.4,364.7 265.9,365.5 267.3,366.3 268.7,367.2 270.2,368.0 271.7,368.8 273.2,369.6 274.8,370.4 276.4,371.2 278.0,371.9 279.6,372.7 281.2,373.4 282.8,374.1 284.4,374.7 286.1,375.3 287.7,375.9 289.3,376.5 290.9,377.0 292.4,377.5 294.0,377.9 295.6,378.4 297.2,378.8 298.8,379.2 300.4,379.5 302.0,379.8 303.7,380.1 305.3,380.4 307.0,380.6 308.6,380.7 310.3,380.8 312.0,380.9 313.8,380.9 315.6,380.8 317.4,380.6 319.2,380.5 321.0,380.2 322.9,380.0 324.7,379.7 326.5,379.4 328.3,379.0 330.0,378.6 331.7,378.2 333.3,377.7 334.8,377.3 336.2,376.8 337.7,376.2 339.1,375.5 340.4,374.7 341.6,373.9 342.8,373.1 343.9,372.2 344.9,371.4 345.8,370.6 346.7,369.8 347.5,369.1 348.1,368.4 348.7,367.9 349.2,367.5 349.6,367.2" fill="#0a0a0a"/>
<polygon points="229,389 222.8,383.2 238.6,378.6" fill="#0a0a0a"/>
<polygon points="231.2,314.6 224.2,321 238.8,327.2" fill="#0a0a0a"/>
<g transform="translate(277.4,313.8)">
<ellipse cx="0" cy="0" rx="8.5" ry="8.5" fill="#ffffff"/>
<clipPath id="gc277_313"><ellipse cx="0" cy="0" rx="13.100000000000001" ry="13.100000000000001"/></clipPath>
<path d="M-13.3,0 A13.3,13.3 0 1 0 13.3,0 A13.3,13.3 0 1 0 -13.3,0 Z M-8.5,0 A8.5,8.5 0 1 1 8.5,0 A8.5,8.5 0 1 1 -8.5,0 Z" fill="none" stroke="#d0320a" stroke-width="1.8"/>
<g clip-path="url(#gc277_313)"><rect x="-10.90" y="-1.80" width="21.80" height="3.6" transform="rotate(27)" fill="#ffb312" stroke="#d0320a" stroke-width="1.8"/></g>
<path d="M-13.3,0 A13.3,13.3 0 1 0 13.3,0 A13.3,13.3 0 1 0 -13.3,0 Z M-8.5,0 A8.5,8.5 0 1 1 8.5,0 A8.5,8.5 0 1 1 -8.5,0 Z" fill="#ffb312" fill-rule="evenodd"/>
<g clip-path="url(#gc277_313)"><rect x="-10.90" y="-1.80" width="21.80" height="3.6" transform="rotate(27)" fill="#ffb312"/></g>
</g>
<text x="201" y="314.3" font-family="'Liberation Sans', sans-serif" font-weight="bold" font-size="29.5" fill="#f01010" stroke="#f01010" stroke-width="0.5" textLength="29" lengthAdjust="spacingAndGlyphs">e-</text>
<text x="207" y="411.2" font-family="'Liberation Sans', sans-serif" font-weight="bold" font-size="29.5" fill="#f01010" stroke="#f01010" stroke-width="0.5" textLength="29" lengthAdjust="spacingAndGlyphs">e-</text>
<text x="132" y="547.5" font-family="'Liberation Sans', sans-serif" font-weight="bold" stroke="#000" stroke-width="0.3" font-size="15.5" fill="#000" textLength="69.8" lengthAdjust="spacingAndGlyphs">GOx-FAD</text>
<text x="133" y="592.4" font-family="'Liberation Sans', sans-serif" font-weight="bold" stroke="#000" stroke-width="0.3" font-size="15.5" fill="#000" textLength="59" lengthAdjust="spacingAndGlyphs">BPCNFs</text>
<text x="266.2" y="551.2" font-family="'Liberation Sans', sans-serif" font-weight="bold" stroke="#000" stroke-width="0.3" font-size="16.5" fill="#000" textLength="82.2" lengthAdjust="spacingAndGlyphs">Active site</text>
<text x="275.2" y="594.4" font-family="'Liberation Sans', sans-serif" font-weight="bold" stroke="#000" stroke-width="0.3" font-size="16" fill="#000" textLength="34.2" lengthAdjust="spacingAndGlyphs">GOx</text>
<g fill="none" stroke="#e8141c" stroke-width="2">
<circle cx="224" cy="545.5" r="15.3" fill="#ffffff"/>
<line x1="210.4" y1="535.6" x2="238.8" y2="550.6"/>
<line x1="208.8" y1="543.2" x2="236.2" y2="557.6"/>
</g>
<polygon points="376.2,535.3 382.7,539.7 384.8,535.9 386.8,539.1 390.4,533.5 391.3,539.1 394.5,538.8 393.6,541.8 397.5,542.6 394.2,545.3 397.2,548.0 393.0,549.2 394.5,553.9 390.7,550.6 389.2,556.2 387.4,551.5 384.8,559.8 383.9,551.8 380.9,554.2 380.9,549.7 375.9,550.3 379.7,546.8 376.8,543.5 380.9,542.6" fill="#fff200" stroke="#e81c0c" stroke-width="1.7" stroke-linejoin="miter" stroke-miterlimit="6"/>
<g transform="translate(389.8,591.3)">
<clipPath id="gc389_591"><ellipse cx="0" cy="0" rx="16.8" ry="14.9"/></clipPath>
<path d="M-17.0,0 A17.0,15.1 0 1 0 17.0,0 A17.0,15.1 0 1 0 -17.0,0 Z M-11.4,0 A11.4,9.5 0 1 1 11.4,0 A11.4,9.5 0 1 1 -11.4,0 Z" fill="none" stroke="#d0320a" stroke-width="2.4"/>
<g clip-path="url(#gc389_591)"><rect x="-14.20" y="-2.10" width="28.40" height="4.2" transform="rotate(23)" fill="#ffb312" stroke="#d0320a" stroke-width="2.4"/></g>
<path d="M-17.0,0 A17.0,15.1 0 1 0 17.0,0 A17.0,15.1 0 1 0 -17.0,0 Z M-11.4,0 A11.4,9.5 0 1 1 11.4,0 A11.4,9.5 0 1 1 -11.4,0 Z" fill="#ffb312" fill-rule="evenodd"/>
<g clip-path="url(#gc389_591)"><rect x="-14.20" y="-2.10" width="28.40" height="4.2" transform="rotate(23)" fill="#ffb312"/></g>
</g>
<g filter="url(#fibS)" stroke="#4a6f90" fill="none" stroke-linecap="butt">
<path d="M207.5,571.5 L222,587 L247.5,604" stroke-width="6"/>
<path d="M207,599.5 L224,593 L238.5,585.5" stroke-width="7"/>
</g>
<ellipse cx="803" cy="358" rx="232" ry="263" fill="none" stroke="#ab1015" stroke-width="2.5" stroke-dasharray="7 3.2"/>
<line x1="498" y1="369" x2="594.5" y2="242.3" stroke="#ab1015" stroke-width="2.5" stroke-dasharray="7 3.2"/>
<line x1="498" y1="432.5" x2="619" y2="521.5" stroke="#ab1015" stroke-width="2.5" stroke-dasharray="7 3.2"/>
<path d="M796,182.6 C797,160 810,138 829,138 C850,138 862,158 864.4,171.3 L870,171.3 L859.6,182.8 L846.9,171.5 L854.8,171.5 C851,158 842,142 831,140.2 C818,146 809,165 807.8,182.6 Z" fill="url(#mag)"/>
<path d="M734,198 C752,198 768,218 768,244 C768,268 757,286 744.5,292.4 L743.5,297.2 L734,289.3 L742.7,279.2 L743.8,284.2 C755,279 764.7,262 764.7,244 C764.7,226 754,208 734,207.9 Z" fill="url(#magR)"/>
<path d="M715,347 C718,325 736,309.7 757.5,309.7 C782,309.7 802,325 807.5,342.5 L811.9,342.5 L802.5,352 L791.7,341.2 L796.9,341.9 C791,326 776,313 760,311.9 C743,314 729,330 726,347.7 Z" fill="url(#mag)"/>
<path d="M809.2,401 C809,425 792,444.2 767,444.2 C742,444 727,428 724.3,412 L718,412.3 L728.3,400.8 L741.2,411.2 L735.4,411.5 C739,425 751,440 765.7,443 C783,440 797,424 798.1,401 Z" fill="url(#magR)"/>
<path d="M772,444 C786,449 793.6,461 793.6,473 C793.6,492 776,504.5 756,502 L751,507.2 L745.3,497 L756.8,492.8 L757,497.8 C773,499.5 789.6,490 789.8,473 C789.8,462 783,450.5 769,444.8 Z" fill="#f23fee"/>
<text x="695" y="188.7" font-family="'Liberation Sans', sans-serif" font-weight="bold" stroke="#000" stroke-width="0.45" font-size="26.5" fill="#000" textLength="97" lengthAdjust="spacingAndGlyphs">Glucose</text>
<text x="816.5" y="201.6" font-family="'Liberation Sans', sans-serif" font-weight="bold" stroke="#000" stroke-width="0.45" font-size="26.5" fill="#000" textLength="163" lengthAdjust="spacingAndGlyphs">Gluconic acid</text>
<text x="608.5" y="386.9" font-family="'Liberation Sans', sans-serif" font-weight="bold" stroke="#000" stroke-width="0.45" font-size="26" fill="#000" textLength="111" lengthAdjust="spacingAndGlyphs">GOx-FAD</text>
<text x="800.8" y="382" font-family="'Liberation Sans', sans-serif" font-weight="bold" stroke="#000" stroke-width="0.45" font-size="26" fill="#000" textLength="127" lengthAdjust="spacingAndGlyphs">GOx-FADH</text>
<text x="929" y="389.5" font-family="'Liberation Sans', sans-serif" font-weight="bold" stroke="#000" stroke-width="0.45" font-size="16.5" fill="#000" textLength="10.5" lengthAdjust="spacingAndGlyphs">2</text>
<text x="770" y="242.6" font-family="'Liberation Sans', sans-serif" font-weight="bold" font-size="23.5" fill="#ab1015" stroke="#ab1015" stroke-width="0.4" textLength="27.5" lengthAdjust="spacingAndGlyphs">2e</text>
<text x="798.6" y="234.4" font-family="'Liberation Sans', sans-serif" font-weight="bold" font-size="22" fill="#ab1015" stroke="#ab1015" stroke-width="0.5" textLength="8" lengthAdjust="spacingAndGlyphs">-</text>
<text x="791.3" y="471.2" font-family="'Liberation Sans', sans-serif" font-weight="bold" font-size="23.5" fill="#ab1015" stroke="#ab1015" stroke-width="0.4" textLength="27.5" lengthAdjust="spacingAndGlyphs">2e</text>
<text x="819.6" y="462.8" font-family="'Liberation Sans', sans-serif" font-weight="bold" font-size="22" fill="#ab1015" stroke="#ab1015" stroke-width="0.5" textLength="8" lengthAdjust="spacingAndGlyphs">-</text>
<g filter="url(#fibS)">
<polygon points="684.4,467.2 685.4,468.1 686.7,469.2 688.1,470.5 689.8,472.0 691.5,473.5 693.4,475.2 695.4,476.9 697.4,478.7 699.4,480.5 701.4,482.3 703.4,484.1 705.2,485.8 707.0,487.4 708.6,488.9 710.1,490.4 711.5,491.9 712.9,493.4 714.3,494.9 715.7,496.4 717.1,497.9 718.4,499.4 719.8,500.9 721.1,502.3 722.4,503.8 723.8,505.3 725.1,506.7 726.5,508.1 727.8,509.5 729.2,510.8 730.5,512.0 731.8,513.3 733.1,514.5 734.4,515.6 735.6,516.8 736.9,517.9 738.1,518.9 739.3,520.0 740.5,521.0 741.7,522.1 742.8,523.1 744.0,524.1 745.1,525.1 746.2,526.0 747.2,526.9 748.3,527.8 749.3,528.8 750.4,529.7 751.4,530.6 752.5,531.6 753.6,532.5 754.7,533.4 755.8,534.4 757.0,535.3 758.2,536.2 759.5,537.1 760.8,538.0 762.1,538.8 763.5,539.6 764.9,540.3 766.3,541.0 767.7,541.6 769.1,542.3 770.4,542.9 771.8,543.5 773.1,544.1 774.4,544.6 775.7,545.1 777.0,545.6 778.2,546.1 779.3,546.6 780.6,547.1 781.9,547.7 783.2,548.2 784.5,548.7 785.7,549.2 787.0,549.6 788.2,550.1 789.4,550.5 790.5,550.9 791.6,551.3 792.5,551.6 793.4,551.9 794.1,552.2 794.7,552.4 799.1,541.6 798.5,541.3 797.8,541.0 796.9,540.6 796.0,540.2 795.0,539.8 793.9,539.3 792.8,538.8 791.7,538.3 790.5,537.7 789.3,537.2 788.1,536.6 786.9,536.1 785.8,535.5 784.7,535.0 783.5,534.4 782.3,533.8 781.1,533.2 779.8,532.6 778.6,532.0 777.4,531.4 776.2,530.8 775.0,530.2 773.8,529.5 772.7,528.9 771.5,528.2 770.5,527.6 769.4,526.9 768.4,526.2 767.5,525.6 766.5,524.9 765.5,524.2 764.6,523.4 763.6,522.6 762.7,521.8 761.7,521.0 760.7,520.1 759.7,519.2 758.7,518.3 757.6,517.3 756.5,516.4 755.3,515.4 754.1,514.3 752.9,513.4 751.7,512.4 750.5,511.5 749.2,510.5 748.0,509.5 746.8,508.6 745.5,507.6 744.3,506.6 743.0,505.6 741.7,504.5 740.5,503.5 739.2,502.4 737.9,501.3 736.6,500.1 735.3,499.0 733.9,497.8 732.6,496.5 731.2,495.2 729.9,493.9 728.4,492.5 727.0,491.1 725.5,489.7 724.0,488.2 722.5,486.8 720.9,485.3 719.3,483.8 717.7,482.3 716.0,480.9 714.2,479.3 712.3,477.7 710.3,476.1 708.2,474.3 706.1,472.6 704.0,470.9 701.8,469.2 699.8,467.6 697.8,466.0 695.9,464.5 694.2,463.2 692.7,462.0 691.4,461.0 690.4,460.2" fill="url(#meshG)"/>
<polygon points="696.6,512.3 696.8,512.7 697.1,513.2 697.5,513.7 697.9,514.3 698.4,514.8 698.9,515.4 699.5,516.1 700.1,516.7 700.7,517.3 701.3,518.0 702.0,518.6 702.7,519.2 703.4,519.9 704.0,520.5 704.6,520.9 705.2,521.4 705.8,521.9 706.5,522.4 707.2,523.0 707.9,523.5 708.8,524.1 709.7,524.7 710.7,525.3 711.7,525.8 712.9,526.3 714.1,526.8 715.4,527.2 716.9,527.5 718.4,527.5 719.9,527.4 721.4,527.2 722.7,526.9 724.0,526.6 725.2,526.3 726.4,526.0 727.5,525.7 728.5,525.4 729.5,525.2 730.4,525.0 731.2,524.8 731.9,524.7 732.5,524.6 733.2,524.6 734.1,524.6 735.0,524.6 736.0,524.7 737.0,524.7 738.1,524.8 739.1,524.9 740.1,525.1 741.1,525.2 742.1,525.3 743.0,525.4 743.8,525.5 744.6,525.6 745.2,525.7 746.8,512.3 746.3,512.3 745.7,512.2 745.0,512.0 744.1,511.9 743.1,511.7 742.1,511.5 740.9,511.3 739.7,511.2 738.5,511.0 737.2,510.8 735.9,510.7 734.6,510.6 733.3,510.6 731.9,510.6 730.4,510.7 729.0,510.8 727.6,511.1 726.4,511.3 725.1,511.6 723.9,511.9 722.8,512.1 721.8,512.4 720.8,512.6 720.0,512.7 719.2,512.8 718.6,512.9 718.1,512.9 717.7,512.9 717.3,513.0 716.8,513.1 716.3,513.2 715.8,513.2 715.1,513.2 714.5,513.1 713.8,513.0 713.0,512.8 712.3,512.6 711.5,512.4 710.6,512.2 709.7,512.0 708.8,511.7 708.0,511.5 707.1,511.5 706.3,511.4 705.5,511.3 704.7,511.2 703.8,511.1 703.0,511.0 702.1,510.9 701.3,510.8 700.5,510.7 699.8,510.7 699.1,510.6 698.5,510.6 697.9,510.6 697.4,510.7" fill="url(#meshG)"/>
<polygon points="764.5,525.0 765.6,525.2 766.9,525.5 768.5,525.8 770.2,526.2 772.1,526.6 774.1,527.0 776.3,527.5 778.4,527.9 780.6,528.4 782.7,528.8 784.8,529.3 786.7,529.8 788.6,530.2 790.2,530.6 791.6,531.0 792.9,531.4 794.3,531.9 795.7,532.4 797.1,532.9 798.5,533.5 800.0,534.0 801.5,534.6 803.0,535.1 804.6,535.6 806.3,536.1 808.1,536.4 810.0,536.7 811.9,536.8 813.8,536.8 815.7,536.5 817.5,536.2 819.2,535.8 820.8,535.3 822.2,534.7 823.6,534.2 824.9,533.6 826.1,533.1 827.3,532.7 828.4,532.2 829.4,531.9 830.4,531.6 831.4,531.4 832.6,531.1 833.9,530.9 835.2,530.6 836.5,530.4 837.7,530.2 839.0,530.0 840.3,529.8 841.6,529.6 842.8,529.5 844.2,529.4 845.5,529.3 846.9,529.2 848.3,529.2 849.7,529.2 851.2,529.2 852.9,529.3 854.8,529.4 856.8,529.6 858.8,529.8 860.9,530.0 863.0,530.3 865.1,530.5 867.1,530.8 868.9,531.0 870.7,531.2 872.2,531.4 873.6,531.6 874.7,531.7 876.3,518.3 875.3,518.2 874.0,518.0 872.5,517.8 870.8,517.5 868.9,517.2 866.9,516.9 864.8,516.6 862.6,516.4 860.4,516.1 858.2,515.8 856.0,515.6 853.9,515.4 851.8,515.3 849.9,515.2 848.1,515.2 846.4,515.2 844.7,515.3 843.1,515.4 841.5,515.5 840.0,515.7 838.4,515.9 837.0,516.1 835.5,516.3 834.1,516.6 832.7,516.8 831.3,517.1 829.9,517.3 828.4,517.6 826.8,518.0 825.1,518.5 823.6,519.0 822.1,519.6 820.8,520.1 819.5,520.7 818.3,521.2 817.2,521.6 816.2,522.0 815.2,522.3 814.4,522.5 813.6,522.7 812.8,522.8 812.1,522.8 811.3,522.7 810.5,522.6 809.6,522.4 808.5,522.2 807.4,521.8 806.2,521.4 805.0,520.9 803.6,520.4 802.1,519.8 800.6,519.2 799.0,518.6 797.3,518.1 795.5,517.5 793.6,517.0 791.7,516.6 789.8,516.1 787.7,515.7 785.5,515.3 783.3,514.8 781.1,514.4 778.9,514.0 776.8,513.6 774.8,513.2 772.8,512.9 771.1,512.5 769.5,512.3 768.2,512.0 767.1,511.8" fill="url(#meshG)"/>
<polygon points="801.9,554.5 802.3,554.2 802.7,553.9 803.2,553.4 803.7,553.0 804.3,552.4 805.0,551.9 805.6,551.3 806.3,550.7 807.0,550.1 807.7,549.4 808.4,548.8 809.1,548.2 809.8,547.6 810.5,547.0 811.2,546.4 811.8,545.8 812.5,545.1 813.1,544.5 813.6,544.0 814.2,543.4 814.7,542.9 815.3,542.4 815.8,541.9 816.4,541.4 816.9,540.9 817.5,540.5 818.1,540.0 818.8,539.5 819.6,539.0 820.5,538.4 821.5,537.8 822.6,537.2 823.8,536.5 825.0,535.8 826.2,535.1 827.5,534.5 828.6,533.8 829.7,533.2 830.8,532.7 831.7,532.2 832.5,531.7 833.2,531.4 826.6,519.6 826.0,520.0 825.3,520.4 824.4,520.9 823.4,521.4 822.2,522.0 821.0,522.7 819.8,523.4 818.5,524.1 817.2,524.8 815.9,525.6 814.6,526.3 813.4,527.0 812.3,527.8 811.2,528.5 810.2,529.2 809.3,529.9 808.4,530.6 807.6,531.3 806.8,531.9 806.1,532.6 805.5,533.2 804.8,533.8 804.2,534.4 803.7,535.0 803.1,535.5 802.6,536.0 802.1,536.5 801.5,537.0 800.9,537.5 800.2,538.1 799.6,538.7 798.8,539.4 798.1,540.0 797.4,540.6 796.8,541.2 796.1,541.8 795.5,542.4 794.9,542.9 794.3,543.4 793.8,543.8 793.4,544.2 793.1,544.5" fill="url(#meshG)"/>
<polygon points="680.6,570.9 681.4,571.2 682.4,571.6 683.7,572.0 685.2,572.5 686.8,573.1 688.5,573.7 690.4,574.3 692.3,574.9 694.3,575.5 696.3,576.1 698.3,576.6 700.3,577.1 702.3,577.4 704.2,577.7 706.0,577.8 707.7,577.9 709.4,577.9 711.1,577.9 712.7,577.8 714.4,577.7 716.0,577.5 717.7,577.3 719.3,577.0 720.9,576.6 722.5,576.3 724.1,575.8 725.7,575.3 727.3,574.8 728.9,574.1 730.5,573.3 732.1,572.5 733.6,571.7 735.1,570.7 736.5,569.8 737.9,568.9 739.2,567.9 740.4,567.0 741.7,566.1 742.9,565.2 744.0,564.3 745.1,563.5 746.3,562.7 747.5,561.8 748.7,560.9 749.8,560.0 751.0,559.1 752.1,558.2 753.1,557.3 754.1,556.4 755.1,555.6 756.1,554.8 757.0,554.1 757.9,553.4 758.8,552.7 759.6,552.1 760.5,551.6 761.3,551.1 762.3,550.6 763.3,550.1 764.4,549.6 765.5,549.1 766.7,548.6 767.8,548.1 768.9,547.7 770.0,547.3 771.0,546.9 772.0,546.5 772.9,546.2 773.7,545.8 774.4,545.6 769.6,533.6 769.1,533.8 768.4,534.1 767.6,534.3 766.6,534.7 765.6,535.0 764.4,535.4 763.2,535.9 761.9,536.3 760.5,536.9 759.2,537.4 757.8,538.0 756.4,538.6 755.1,539.3 753.7,540.0 752.4,540.8 751.2,541.6 750.0,542.4 748.8,543.2 747.7,544.1 746.6,544.9 745.5,545.8 744.4,546.6 743.4,547.4 742.3,548.2 741.3,549.0 740.3,549.8 739.2,550.5 738.1,551.3 736.9,552.1 735.7,553.0 734.5,553.9 733.3,554.8 732.1,555.7 730.9,556.6 729.8,557.4 728.6,558.2 727.5,558.9 726.4,559.6 725.4,560.2 724.3,560.8 723.3,561.2 722.3,561.6 721.3,562.0 720.1,562.4 719.0,562.7 717.8,563.0 716.7,563.2 715.5,563.4 714.3,563.6 713.1,563.7 711.9,563.8 710.6,563.9 709.4,563.9 708.1,563.9 706.8,563.8 705.6,563.7 704.3,563.6 703.0,563.4 701.4,563.1 699.8,562.7 698.0,562.2 696.3,561.7 694.5,561.2 692.8,560.7 691.1,560.1 689.5,559.6 688.0,559.2 686.7,558.7 685.4,558.3 684.4,558.1" fill="url(#meshG)"/>
<polygon points="692.2,549.7 692.9,550.2 693.7,550.9 694.6,551.6 695.7,552.5 696.9,553.4 698.1,554.4 699.4,555.4 700.8,556.4 702.1,557.5 703.4,558.5 704.7,559.6 706.0,560.5 707.1,561.5 708.2,562.3 709.0,563.0 709.8,563.7 710.6,564.4 711.3,565.1 712.1,565.8 712.8,566.5 713.6,567.2 714.5,568.0 715.4,568.8 716.4,569.6 717.5,570.5 718.7,571.3 719.9,572.1 721.3,573.0 722.8,573.8 724.3,574.6 725.8,575.3 727.4,576.1 729.0,576.8 730.6,577.5 732.3,578.2 734.0,578.9 735.6,579.6 737.4,580.3 739.1,581.1 740.8,581.8 742.5,582.5 744.2,583.3 746.1,584.1 748.0,585.0 750.0,585.9 752.1,586.8 754.2,587.8 756.4,588.8 758.5,589.7 760.6,590.7 762.7,591.6 764.7,592.5 766.6,593.4 768.4,594.2 770.0,595.0 771.5,595.7 772.9,596.3 774.2,596.9 775.4,597.5 776.5,598.1 777.6,598.6 778.6,599.1 779.5,599.6 780.4,600.0 781.2,600.4 781.9,600.8 782.6,601.2 783.2,601.5 783.8,601.8 784.3,602.1 790.7,589.5 790.2,589.3 789.7,589.0 789.1,588.7 788.4,588.4 787.6,588.0 786.8,587.5 785.9,587.1 784.9,586.6 783.9,586.1 782.8,585.5 781.6,584.9 780.3,584.3 778.9,583.6 777.5,582.9 775.9,582.2 774.2,581.4 772.4,580.6 770.5,579.7 768.5,578.8 766.4,577.9 764.3,576.9 762.1,576.0 760.0,575.0 757.9,574.0 755.8,573.1 753.7,572.2 751.8,571.3 750.0,570.5 748.1,569.7 746.3,568.9 744.5,568.1 742.8,567.4 741.1,566.7 739.4,566.0 737.8,565.3 736.2,564.6 734.7,564.0 733.2,563.3 731.9,562.7 730.6,562.0 729.4,561.4 728.3,560.8 727.3,560.2 726.4,559.7 725.6,559.2 724.8,558.6 724.1,558.1 723.4,557.5 722.7,557.0 722.0,556.3 721.2,555.7 720.4,555.0 719.5,554.2 718.6,553.4 717.5,552.6 716.4,551.7 715.3,550.9 714.1,550.0 712.8,549.0 711.5,548.0 710.1,547.0 708.8,546.0 707.4,545.0 706.1,544.0 704.8,543.0 703.6,542.1 702.5,541.3 701.5,540.6 700.7,540.0 700.0,539.5" fill="url(#meshG)"/>
<polygon points="765.1,560.9 766.1,561.3 767.3,561.7 768.8,562.1 770.5,562.6 772.3,563.2 774.2,563.8 776.2,564.4 778.3,565.1 780.3,565.7 782.4,566.4 784.4,567.0 786.4,567.6 788.2,568.2 789.9,568.7 791.4,569.2 792.9,569.7 794.4,570.2 795.9,570.7 797.4,571.2 799.0,571.7 800.5,572.2 802.0,572.7 803.5,573.2 805.0,573.7 806.5,574.1 808.1,574.4 809.6,574.7 811.1,575.0 812.7,575.1 814.1,575.2 815.5,575.1 816.8,575.0 818.0,574.8 819.0,574.6 820.0,574.3 820.9,574.1 821.6,573.8 822.4,573.6 823.1,573.4 823.9,573.3 824.8,573.1 825.9,572.9 827.3,572.8 828.8,572.5 830.5,572.3 832.2,572.0 833.9,571.8 835.7,571.5 837.5,571.2 839.3,571.0 841.1,570.8 842.9,570.6 844.7,570.5 846.4,570.4 848.1,570.3 849.7,570.3 851.3,570.4 853.0,570.5 854.9,570.6 856.9,570.9 859.0,571.1 861.0,571.4 863.1,571.7 865.0,572.1 867.0,572.4 868.8,572.7 870.4,573.0 872.0,573.3 873.3,573.5 874.5,573.6 876.5,560.4 875.6,560.2 874.4,560.0 872.9,559.7 871.2,559.3 869.4,559.0 867.4,558.6 865.4,558.2 863.2,557.8 861.0,557.5 858.7,557.1 856.5,556.8 854.3,556.6 852.1,556.4 849.9,556.3 847.9,556.3 845.8,556.3 843.7,556.5 841.6,556.6 839.6,556.8 837.6,557.1 835.6,557.3 833.7,557.6 831.8,557.9 830.1,558.2 828.4,558.4 826.8,558.7 825.3,558.9 823.9,559.1 822.5,559.3 821.1,559.5 819.8,559.8 818.7,560.1 817.8,560.4 817.0,560.6 816.3,560.8 815.8,560.9 815.3,561.0 815.0,561.1 814.6,561.1 814.1,561.1 813.6,561.1 812.9,561.0 812.0,560.9 811.0,560.7 810.0,560.5 808.8,560.2 807.6,559.8 806.3,559.4 804.9,558.9 803.5,558.5 802.0,557.9 800.5,557.4 798.9,556.9 797.3,556.3 795.6,555.8 793.9,555.3 792.2,554.8 790.4,554.3 788.4,553.7 786.4,553.1 784.3,552.5 782.2,551.9 780.2,551.3 778.2,550.7 776.2,550.2 774.4,549.6 772.7,549.2 771.2,548.7 770.0,548.4 768.9,548.1" fill="url(#meshG)"/>
<polygon points="821.7,573.5 822.4,574.0 823.4,574.5 824.5,575.2 825.7,576.0 827.1,576.8 828.6,577.7 830.2,578.6 831.8,579.6 833.5,580.6 835.2,581.5 836.9,582.5 838.6,583.5 840.3,584.4 841.9,585.2 843.6,586.0 845.4,586.9 847.2,587.8 849.1,588.6 851.0,589.5 853.0,590.3 854.9,591.1 856.7,591.9 858.4,592.7 860.1,593.4 861.6,594.0 862.9,594.6 864.0,595.1 864.9,595.5 870.1,583.7 869.1,583.3 867.9,582.8 866.6,582.2 865.1,581.6 863.5,580.9 861.7,580.2 859.9,579.4 858.1,578.6 856.2,577.8 854.4,576.9 852.6,576.1 850.8,575.3 849.2,574.5 847.7,573.8 846.2,573.0 844.7,572.2 843.1,571.3 841.5,570.4 839.9,569.5 838.3,568.5 836.7,567.6 835.2,566.7 833.7,565.8 832.4,565.0 831.1,564.2 830.0,563.6 829.0,563.0 828.1,562.5" fill="url(#meshG)"/>
<polygon points="799.2,609.9 799.5,609.4 800.0,608.6 800.5,607.8 801.1,606.9 801.7,605.9 802.4,604.9 803.1,603.8 803.8,602.7 804.5,601.5 805.2,600.4 806.0,599.2 806.7,598.1 807.4,597.1 808.1,596.1 808.8,595.1 809.5,594.0 810.2,592.9 810.8,591.9 811.5,590.9 812.2,589.9 812.9,588.9 813.5,587.9 814.2,587.0 814.8,586.1 815.5,585.2 816.1,584.4 816.8,583.7 817.4,583.0 818.0,582.3 818.7,581.6 819.5,580.8 820.3,580.1 821.2,579.3 822.1,578.5 823.0,577.8 823.9,577.0 824.8,576.3 825.7,575.7 826.5,575.1 827.2,574.5 827.9,573.9 828.4,573.5 819.6,562.5 819.2,562.9 818.6,563.3 817.9,563.8 817.1,564.3 816.2,565.0 815.2,565.7 814.2,566.5 813.1,567.3 812.0,568.2 810.9,569.1 809.8,570.0 808.7,571.0 807.6,572.0 806.6,573.0 805.7,574.1 804.8,575.2 803.9,576.2 803.1,577.3 802.3,578.4 801.5,579.5 800.8,580.6 800.0,581.7 799.3,582.8 798.6,583.9 797.9,584.9 797.2,585.9 796.6,586.9 795.9,587.9 795.2,589.0 794.5,590.1 793.7,591.3 792.9,592.4 792.2,593.6 791.4,594.8 790.7,596.0 790.0,597.1 789.3,598.1 788.7,599.1 788.1,600.0 787.6,600.8 787.2,601.5 786.8,602.1" fill="url(#meshG)"/>
<polygon points="846.4,503.2 847.4,503.8 848.6,504.6 850.1,505.5 851.8,506.5 853.6,507.5 855.5,508.7 857.5,509.9 859.5,511.1 861.5,512.4 863.6,513.6 865.5,514.9 867.4,516.0 869.2,517.2 870.8,518.2 872.3,519.2 873.9,520.2 875.3,521.2 876.8,522.2 878.3,523.2 879.7,524.2 881.1,525.2 882.5,526.2 883.9,527.2 885.3,528.1 886.6,529.1 888.0,530.0 889.3,530.9 890.6,531.8 891.8,532.7 893.0,533.5 894.2,534.2 895.3,535.0 896.4,535.7 897.5,536.3 898.5,537.0 899.5,537.7 900.5,538.3 901.5,538.9 902.5,539.6 903.5,540.3 904.5,540.9 905.5,541.6 906.5,542.4 907.6,543.1 908.7,543.9 909.8,544.6 910.9,545.4 912.0,546.1 913.1,546.9 914.1,547.7 915.2,548.4 916.2,549.2 917.2,550.0 918.2,550.7 919.1,551.5 920.0,552.2 920.9,552.9 921.8,553.7 922.7,554.6 923.7,555.4 924.6,556.3 925.5,557.2 926.4,558.1 927.3,559.0 928.1,559.8 928.9,560.6 929.7,561.4 930.3,562.0 930.9,562.6 931.4,563.1 940.6,554.1 940.1,553.6 939.6,553.1 939.0,552.4 938.3,551.7 937.6,550.8 936.7,549.9 935.8,549.0 934.9,548.0 933.9,547.0 932.9,546.0 931.9,544.9 930.9,543.9 929.8,543.0 928.8,542.0 927.7,541.1 926.7,540.2 925.6,539.3 924.6,538.5 923.5,537.6 922.4,536.7 921.2,535.9 920.1,535.0 919.0,534.2 917.9,533.4 916.8,532.6 915.7,531.7 914.6,530.9 913.5,530.2 912.4,529.4 911.3,528.6 910.3,527.9 909.2,527.2 908.2,526.5 907.1,525.9 906.1,525.2 905.1,524.5 904.0,523.9 903.0,523.2 901.9,522.5 900.8,521.7 899.6,521.0 898.4,520.2 897.2,519.4 896.0,518.5 894.7,517.6 893.4,516.7 892.0,515.7 890.6,514.7 889.2,513.7 887.8,512.7 886.3,511.7 884.8,510.6 883.2,509.6 881.6,508.5 880.0,507.5 878.4,506.4 876.6,505.3 874.8,504.2 872.8,503.0 870.7,501.8 868.6,500.5 866.5,499.3 864.5,498.1 862.4,496.9 860.5,495.8 858.7,494.8 857.0,493.8 855.5,492.9 854.3,492.2 853.2,491.6" fill="url(#meshG)"/>
<polygon points="857.5,554.4 857.9,554.4 858.5,554.4 859.2,554.4 860.2,554.4 861.3,554.5 862.5,554.5 863.8,554.5 865.2,554.5 866.7,554.4 868.2,554.2 869.8,554.0 871.4,553.7 873.1,553.3 874.8,552.7 876.4,552.0 878.0,551.1 879.4,550.3 880.7,549.3 881.9,548.4 883.1,547.5 884.3,546.5 885.3,545.6 886.4,544.7 887.4,543.9 888.3,543.2 889.2,542.5 890.0,542.0 890.8,541.5 891.8,541.0 892.8,540.4 893.7,539.9 894.7,539.4 895.6,538.9 896.5,538.4 897.4,538.0 898.3,537.6 899.2,537.3 900.0,536.9 900.9,536.7 901.7,536.4 902.6,536.2 903.5,536.0 904.4,535.8 905.4,535.6 906.3,535.4 907.3,535.3 908.4,535.2 909.4,535.2 910.5,535.1 911.6,535.1 912.7,535.1 913.8,535.1 914.9,535.2 916.1,535.2 917.3,535.3 918.5,535.5 919.7,535.6 920.9,535.8 922.2,536.1 923.6,536.4 925.0,536.7 926.4,537.0 927.9,537.4 929.3,537.8 930.7,538.2 932.1,538.6 933.5,539.0 934.8,539.4 936.0,539.7 937.2,540.1 938.3,540.4 939.3,540.8 940.3,541.2 941.3,541.5 942.3,541.9 943.3,542.3 944.2,542.7 945.1,543.1 946.0,543.5 946.8,543.9 947.6,544.2 948.3,544.5 948.9,544.8 949.5,545.1 954.9,532.1 954.5,531.9 953.9,531.7 953.3,531.4 952.5,531.1 951.7,530.7 950.8,530.3 949.8,529.9 948.7,529.4 947.6,529.0 946.4,528.5 945.2,528.0 944.0,527.6 942.7,527.1 941.4,526.7 940.1,526.3 938.8,525.9 937.4,525.5 936.0,525.1 934.5,524.7 933.0,524.2 931.4,523.8 929.8,523.4 928.2,523.0 926.6,522.7 925.0,522.3 923.4,522.0 921.8,521.8 920.3,521.5 918.8,521.4 917.4,521.2 916.0,521.0 914.6,520.9 913.1,520.9 911.7,520.8 910.3,520.8 908.9,520.8 907.5,520.8 906.1,520.9 904.7,521.0 903.3,521.2 901.9,521.4 900.5,521.6 899.1,522.0 897.7,522.3 896.4,522.7 895.1,523.2 893.8,523.6 892.6,524.2 891.4,524.7 890.2,525.2 889.0,525.8 887.9,526.4 886.8,527.0 885.7,527.6 884.6,528.2 883.4,528.9 882.1,529.7 880.7,530.6 879.5,531.6 878.2,532.5 877.1,533.4 876.0,534.4 874.9,535.2 873.9,536.1 873.0,536.8 872.1,537.5 871.3,538.1 870.5,538.5 869.9,538.9 869.4,539.1 868.9,539.3 868.2,539.4 867.5,539.6 866.6,539.7 865.7,539.8 864.7,539.8 863.6,539.8 862.6,539.8 861.6,539.8 860.6,539.8 859.6,539.8 858.6,539.8 857.7,539.8 856.9,539.8" fill="url(#meshG)"/>
</g>
</svg>
</body>
</html>
